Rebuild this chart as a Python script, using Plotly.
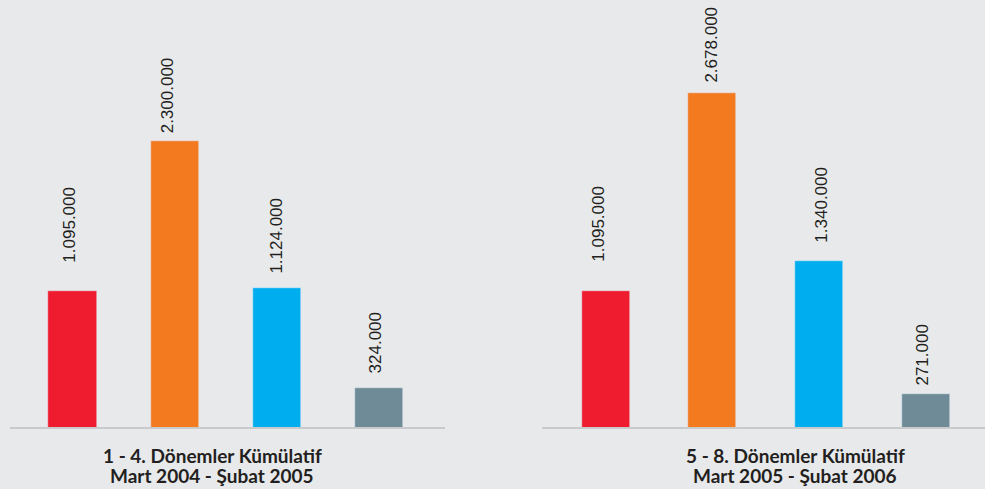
import plotly.graph_objects as go

categories = ["A", "B", "C", "D"]
values_left = [1095000, 2300000, 1124000, 324000]
values_right = [1095000, 2678000, 1340000, 271000]
labels_left = ["1.095.000", "2.300.000", "1.124.000", "324.000"]
labels_right = ["1.095.000", "2.678.000", "1.340.000", "271.000"]
title_left = ["1 - 4. Dönemler Kümülatif", "Mart 2004 - Şubat 2005"]
title_right = ["5 - 8. Dönemler Kümülatif", "Mart 2005 - Şubat 2006"]

colors = ["#ee1c2e", "#f47a20", "#00aeef", "#6e8b97"]
gap_left = [26, 5, 12, 12]
gap_right = [27, 9, 16, 7]
xshift_left = [-3, -7, -1, -4]
xshift_right = [-7, -1, 2, -3]

W, H = 985, 489
BG = "#e8e9eb"

fig = go.Figure()
fig.add_trace(go.Bar(x=categories, y=values_left, marker_color=colors, width=0.47,
                     xaxis="x", yaxis="y", showlegend=False, hoverinfo="skip"))
fig.add_trace(go.Bar(x=categories, y=values_right, marker_color=colors, width=0.45,
                     xaxis="x2", yaxis="y2", showlegend=False, hoverinfo="skip"))

label_font = dict(family="Liberation Sans, Arial, sans-serif", size=17, color="#231f20")
anns = []
for i, c in enumerate(categories):
    anns.append(dict(x=c, y=values_left[i], xref="x", yref="y", text=labels_left[i],
                     textangle=-90, showarrow=False, xanchor="center", yanchor="bottom",
                     yshift=gap_left[i], xshift=xshift_left[i], font=label_font))
    anns.append(dict(x=c, y=values_right[i], xref="x2", yref="y2", text=labels_right[i],
                     textangle=-90, showarrow=False, xanchor="center", yanchor="bottom",
                     yshift=gap_right[i], xshift=xshift_right[i], font=label_font))

title_font = dict(family="Lato, Open Sans, sans-serif", size=19, color="#231f20", weight="bold")
for cx, lines in ((212, title_left), (795, title_right)):
    for cy, line in zip((455, 475), lines):
        anns.append(dict(x=cx / W, y=1 - cy / H, xref="paper", yref="paper", text=line,
                         showarrow=False, xanchor="center", yanchor="middle",
                         font=title_font))

yr = [-488000, 3424000]
shapes = [
    dict(type="line", xref="paper", yref="y", x0=10 / W, x1=445 / W, y0=0, y1=0,
         line=dict(color="#c9cacc", width=2)),
    dict(type="line", xref="paper", yref="y2", x0=542 / W, x1=1, y0=0, y1=0,
         line=dict(color="#c9cacc", width=2)),
]

fig.update_layout(
    width=W, height=H,
    margin=dict(l=0, r=0, t=0, b=0),
    paper_bgcolor=BG, plot_bgcolor=BG,
    xaxis=dict(domain=[10 / W, 445 / W], range=[-0.611, 3.641], visible=False, fixedrange=True),
    yaxis=dict(domain=[0, 1], range=yr, visible=False, fixedrange=True),
    xaxis2=dict(domain=[542 / W, 1], range=[-0.595, 3.553], visible=False, fixedrange=True),
    yaxis2=dict(domain=[0, 1], range=yr, visible=False, fixedrange=True, anchor="x2"),
    annotations=anns,
    shapes=shapes,
    bargap=0,
)

fig.write_html("out.html", config={"displayModeBar": False},
               post_script="document.body.style.margin='0';document.body.style.overflow='hidden';"
                           "document.body.style.background='" + BG + "';")
